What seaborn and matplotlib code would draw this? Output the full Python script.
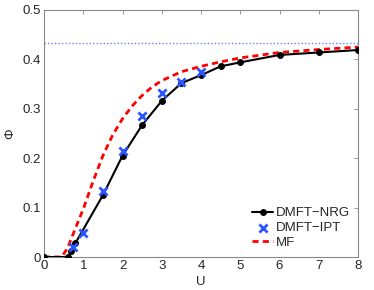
import numpy as np
import pandas as pd
import matplotlib
matplotlib.use("Agg")
import matplotlib.pyplot as plt
import seaborn as sns

# DMFT-NRG data
nrg_u = [0, 0.6, 0.7, 0.8, 1.5, 2.0, 2.5, 3.0, 3.5, 4.0, 4.5, 5.0, 6.0, 7.0, 8.0]
nrg_phi = [0, 0.0, 0.012, 0.028, 0.125, 0.205, 0.267, 0.316, 0.352, 0.368, 0.386, 0.394, 0.409, 0.414, 0.419]

# DMFT-IPT data
ipt_u = [0.75, 1.0, 1.5, 2.0, 2.5, 3.0, 3.5, 4.0]
ipt_phi = [0.021, 0.049, 0.134, 0.215, 0.285, 0.331, 0.355, 0.375]

# Mean-field curve
mf_u = [0, 0.45, 0.6, 0.7, 0.8, 1.0, 1.25, 1.5, 1.75, 2.0, 2.25, 2.5, 2.75, 3.0, 3.5, 4.0, 4.5, 5.0, 6.0, 7.0, 8.0]
mf_phi = [0, 0.0, 0.018, 0.038, 0.058, 0.097, 0.153, 0.205, 0.247, 0.28, 0.306, 0.327, 0.344, 0.357, 0.375, 0.386, 0.395, 0.403, 0.414, 0.420, 0.425]

# horizontal limit
limit_phi = 0.434

x_ticks = [0, 1, 2, 3, 4, 5, 6, 7, 8]
y_ticks = [0, 0.1, 0.2, 0.3, 0.4, 0.5]
y_ticklabels = ["0", "0.1", "0.2", "0.3", "0.4", "0.5"]

sns.set_style("white")
plt.rcParams['font.family'] = ['Liberation Sans', 'DejaVu Sans']

fig = plt.figure(figsize=(3.74, 2.9), dpi=100)
ax = fig.add_axes([44/374, 33/290, 314/374, 247/290])

ax.axhline(limit_phi, color='#6f7fff', linestyle=(0, (1, 1.5)), linewidth=1.0, zorder=1)

nrg = pd.DataFrame({"U": nrg_u, "Phi": nrg_phi})
ipt = pd.DataFrame({"U": ipt_u, "Phi": ipt_phi})
mf = pd.DataFrame({"U": mf_u, "Phi": mf_phi})

sns.lineplot(data=nrg, x="U", y="Phi", ax=ax, color='black', linewidth=1.5,
             marker='o', markersize=4.2, markeredgecolor='black', label='DMFT\u2212NRG', zorder=3)
sns.scatterplot(data=ipt, x="U", y="Phi", ax=ax, color='#2a55ff', marker='x',
                s=34, linewidth=2.0, label='DMFT\u2212IPT', zorder=4)
sns.lineplot(data=mf, x="U", y="Phi", ax=ax, color='#ff0000', linewidth=2.0,
             linestyle=(0, (2.2, 1.5)), label='MF', zorder=2)

ax.set_xlim(0, 8)
ax.set_ylim(0, 0.5)
ax.set_xticks(x_ticks)
ax.set_xticklabels([str(t) for t in x_ticks])
ax.set_yticks(y_ticks)
ax.set_yticklabels(y_ticklabels)
ax.set_xlabel("U", fontsize=9.5, labelpad=3)
ax.set_ylabel("\u03a6", fontsize=9.5, labelpad=5)

for s in ax.spines.values():
    s.set_visible(True)
    s.set_color('#888888')
    s.set_linewidth(0.8)
ax.tick_params(direction='in', length=3, width=0.6, color='#888888', labelsize=9.5,
               top=True, right=True, pad=2)

leg = ax.legend(loc='lower right', frameon=False, fontsize=9.5, handlelength=1.6,
                handletextpad=0.2, labelspacing=0.2, borderaxespad=0.2,
                bbox_to_anchor=(1.0, 0.0))

fig.savefig("out.png", dpi=100)
